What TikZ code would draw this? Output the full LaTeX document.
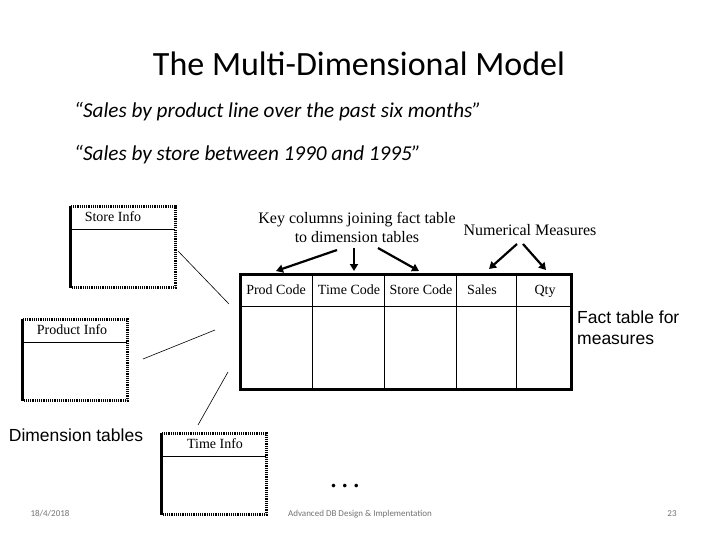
\documentclass[tikz,border=0pt]{standalone}
\usepackage{fontspec}
\setmainfont{Liberation Serif}
\newfontfamily\titlefont{Carlito}
\newfontfamily\arialfont{Liberation Sans}
\usetikzlibrary{arrows.meta}
\tikzset{
  dimbox/.style={minimum width=104pt, minimum height=81pt, inner sep=0pt},
  dotborder/.style={line width=2.6pt, dash pattern=on 1.2pt off 1pt},
  solidleft/.style={line width=3pt},
  hdr/.style={font=\fontsize{14}{16}\selectfont, inner sep=0pt},
  colhdr/.style={font=\fontsize{14}{16}\selectfont, inner sep=0pt, anchor=base},
  keyarrow/.style={line width=2.2pt, -{Triangle[length=7pt,width=8pt]}},
  connector/.style={line width=0.6pt},
  arialtext/.style={font=\arialfont\fontsize{17.5}{21}\selectfont, inner sep=0pt},
  quote/.style={font=\titlefont\itshape\fontsize{21.2}{24}\selectfont, anchor=west, inner sep=0pt},
  footer/.style={font=\titlefont\fontsize{9}{10}\selectfont, text=black!55, inner sep=0pt}
}
\begin{document}
\begin{tikzpicture}[x=1pt,y=-1pt]
\useasboundingbox[fill=white] (0,0) rectangle (720,540);
% title
\node[font=\titlefont\fontsize{34}{38}\selectfont, inner sep=0pt] (title) at (359,64) {The Multi-Dimensional Model};
\node[quote] (q1) at (74,112) {“Sales by product line over the past six months”};
\node[quote] (q2) at (74,155) {“Sales by store between 1990 and 1995”};

% Store Info
\node[dimbox] (store) at (123,247) {};
\draw[dotborder] (store.north west) -- (store.north east) -- (store.south east) -- (store.south west);
\draw[solidleft] (store.south west) -- (store.north west);
\draw[line width=0.7pt] (store.west |- 0,229) coordinate (sh1) -- (store.east |- 0,229) coordinate (sh2);
\node[hdr] (storet) at (113,217) {Store Info};

% Product Info
\node[dimbox] (prod) at (75,360) {};
\draw[dotborder] (prod.north west) -- (prod.north east) -- (prod.south east) -- (prod.south west);
\draw[solidleft] (prod.south west) -- (prod.north west);
\draw[line width=0.7pt] (prod.west |- 0,342) coordinate (ph1) -- (prod.east |- 0,342) coordinate (ph2);
\node[hdr] (prodt) at (72,330) {Product Info};

% Time Info
\node[dimbox] (time) at (214,474) {};
\draw[dotborder] (time.north west) -- (time.north east) -- (time.south east) -- (time.south west);
\draw[solidleft] (time.south west) -- (time.north west);
\draw[line width=0.7pt] (time.west |- 0,456) coordinate (th1) -- (time.east |- 0,456) coordinate (th2);
\node[hdr] (timet) at (215,444) {Time Info};

% Fact table
\node[draw, line width=3pt, minimum width=331pt, minimum height=115pt, inner sep=0pt] (fact) at (406,332) {};
\draw[line width=0.7pt] (fact.west |- 0,306) -- (fact.east |- 0,306);
\foreach \cx in {312,384,456,516} {
  \draw[line width=0.7pt] (\cx,275) -- (\cx,389);
}
\node[colhdr] (c1) at (276,294) {Prod Code};
\node[colhdr] (c2) at (349,294) {Time Code};
\node[colhdr] (c3) at (421,294) {Store Code};
\node[colhdr] (c4) at (482,294) {Sales};
\node[colhdr] (c5) at (545,294) {Qty};

% labels
\node[font=\fontsize{16}{19}\selectfont, align=center, inner sep=0pt] (keylbl) at (357,227) {Key columns joining fact table\\to dimension tables};
\node[font=\fontsize{16}{19}\selectfont, inner sep=0pt] (numlbl) at (530,230) {Numerical Measures};

% arrows
\coordinate (k1s) at (337,250); \coordinate (k1e) at (276,271);
\coordinate (k2s) at (354,248); \coordinate (k2e) at (354,271);
\coordinate (k3s) at (378,248); \coordinate (k3e) at (419,271);
\coordinate (n1s) at (517,244); \coordinate (n1e) at (489,269);
\coordinate (n2s) at (523,244); \coordinate (n2e) at (546,270);
\draw[keyarrow] (k1s) -- (k1e);
\draw[keyarrow] (k2s) -- (k2e);
\draw[keyarrow] (k3s) -- (k3e);
\draw[keyarrow] (n1s) -- (n1e);
\draw[keyarrow] (n2s) -- (n2e);

% connectors
\coordinate (sc1) at (178,251); \coordinate (sc2) at (229,304);
\coordinate (pc1) at (143,359); \coordinate (pc2) at (215,330);
\coordinate (tc1) at (198,425); \coordinate (tc2) at (228,372);
\draw[connector] (sc1) -- (sc2);
\draw[connector] (pc1) -- (pc2);
\draw[connector] (tc1) -- (tc2);

\node[arialtext] (dimlbl) at (76,435) {Dimension tables};
\node[arialtext, align=left, anchor=west] (factlbl) at (577,328) {Fact table for\\measures};

\node[font=\bfseries\fontsize{22}{24}\selectfont, inner sep=0pt] (dots) at (345,486) {.\hspace{6pt}.\hspace{6pt}.};

% footer
\node[footer] (date) at (50,514) {18/4/2018};
\node[footer] (course) at (360,514) {Advanced DB Design \& Implementation};
\node[footer] (page) at (672,514) {23};
\end{tikzpicture}
\end{document}
